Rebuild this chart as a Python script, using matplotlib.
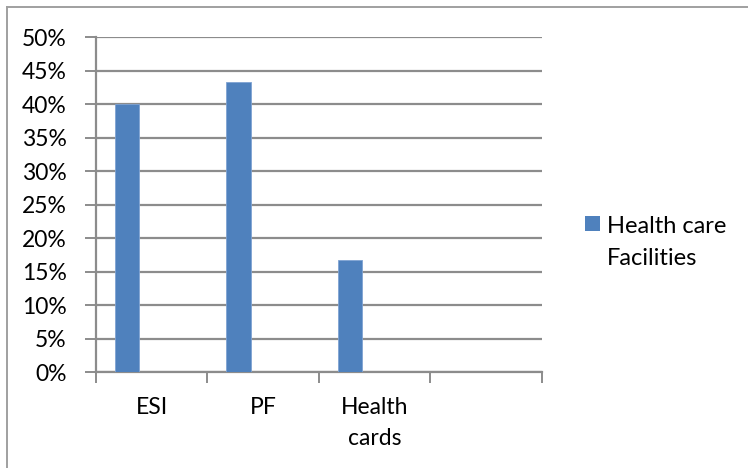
import numpy as np
import matplotlib.pyplot as plt
from matplotlib.lines import Line2D
from matplotlib.patches import Rectangle

# share of workers covered by each scheme
categories = ['ESI', 'PF', 'Health\ncards', '']
values = [40.0, 43.33, 16.67]
series_name = 'Health care\nFacilities'

bar_color = '#4F81BD'
grid_color = '#8C8C8C'

plt.rcParams['font.family'] = ['Lato', 'DejaVu Sans']

fig = plt.figure(figsize=(7.48, 4.68), dpi=100)
fig.set_facecolor('white')
ax = fig.add_axes([0.1283, 0.2051, 0.5963, 0.7158])

x = np.arange(len(values))
ax.bar(x + 0.28, values, width=0.22, color=bar_color, edgecolor='#7FA3D3',
       linewidth=0.6, label=series_name, zorder=3)

ax.set_xlim(0, len(categories))
ax.set_ylim(0, 50)
ax.set_yticks(np.arange(0, 51, 5))
ax.set_yticklabels(['%d%%' % v for v in range(0, 51, 5)], fontsize=16.5)
ax.yaxis.grid(True, color=grid_color, linewidth=1.6, zorder=0)

# category ticks on boundaries, labels in the middle
ax.set_xticks(np.arange(len(categories) + 1))
ax.set_xticklabels([])
ax.set_xticks(np.arange(len(categories)) + 0.5, minor=True)
ax.set_xticklabels(categories, minor=True, fontsize=16.5, linespacing=1.6, va='top')
ax.tick_params(axis='x', which='minor', length=0, pad=18)
ax.tick_params(axis='x', which='major', length=8, width=1.4, color=grid_color)
ax.tick_params(axis='y', length=8, width=1.4, color=grid_color, pad=13)

for s in ['top', 'right']:
    ax.spines[s].set_visible(False)
for s in ['left', 'bottom']:
    ax.spines[s].set_color(grid_color)
    ax.spines[s].set_linewidth(1.6)

# legend: square key beside the first line of the series name
W, H = 748, 468
fig.add_artist(Rectangle((585 / W, 1 - 231 / H), 15 / W, 15 / H,
                         transform=fig.transFigure, facecolor=bar_color, edgecolor='none'))
fig.text(607 / W, 1 - 216 / H, series_name, fontsize=17, va='top', ha='left',
         linespacing=1.62)

# chart border
fig.add_artist(Line2D([7 / W, 7 / W], [0, 1 - 7 / H], color='#A0A0A0', linewidth=1.4))
fig.add_artist(Line2D([7 / W, 1], [1 - 7 / H, 1 - 7 / H], color='#A0A0A0', linewidth=1.4))

fig.savefig('out.png', dpi=100, facecolor='white')
